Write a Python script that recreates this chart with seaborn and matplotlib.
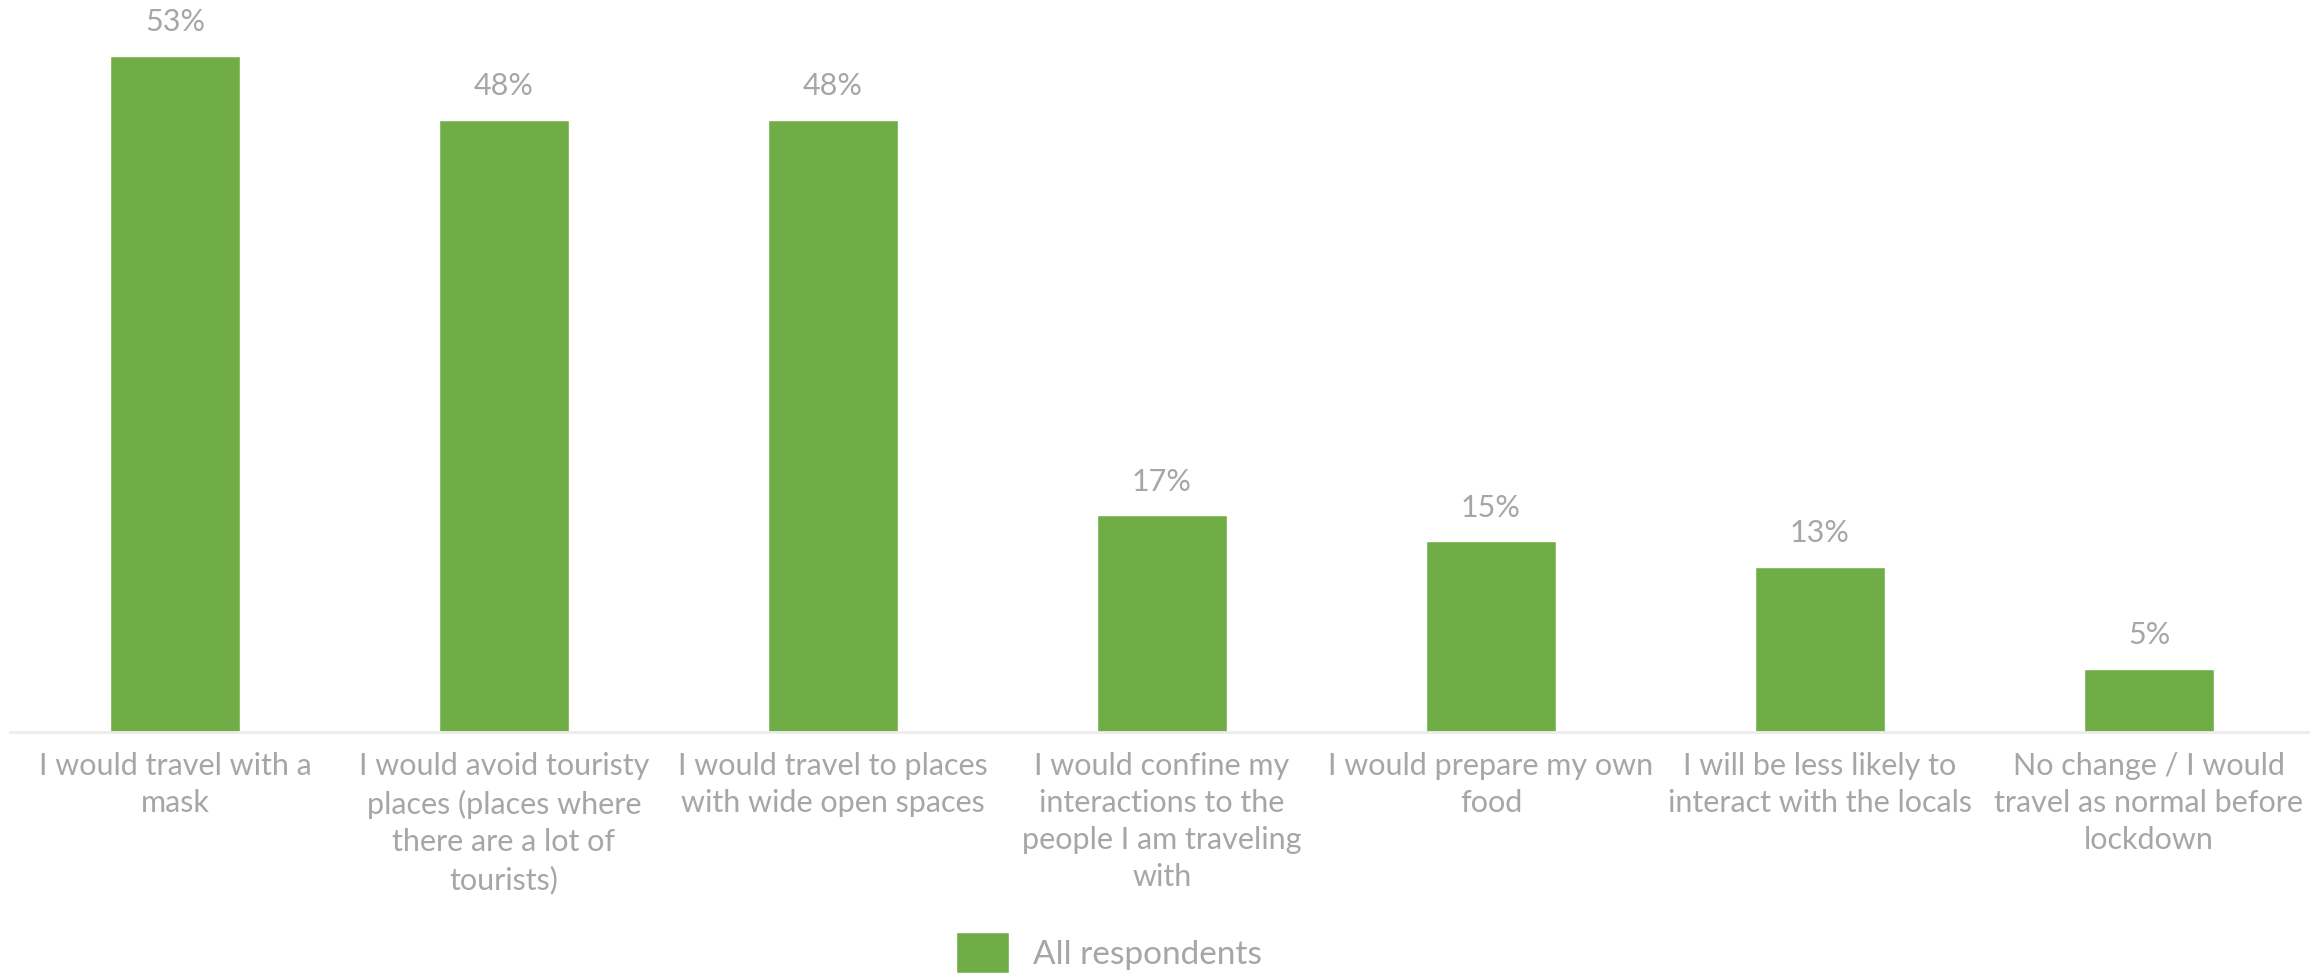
import matplotlib
matplotlib.use("Agg")
import matplotlib.pyplot as plt
import seaborn as sns
import pandas as pd

categories = [
    "I would travel with a\nmask",
    "I would avoid touristy\nplaces (places where\nthere are a lot of\ntourists)",
    "I would travel to places\nwith wide open spaces",
    "I would confine my\ninteractions to the\npeople I am traveling\nwith",
    "I would prepare my own\nfood",
    "I will be less likely to\ninteract with the locals",
    "No change / I would\ntravel as normal before\nlockdown",
]
values = [53, 48, 48, 17, 15, 13, 5]
series_name = "All respondents"

GREEN = "#70AD47"
GRAY = "#A6A6A6"

sns.set_theme(style="white")
plt.rcParams["font.family"] = ["Lato", "DejaVu Sans"]

df = pd.DataFrame({"category": categories, "value": values})

fig = plt.figure(figsize=(23.1, 9.74), dpi=100)
ax = fig.add_axes([0.0045, 0.248, 0.997, 0.747])

sns.barplot(data=df, x="category", y="value", color=GREEN, width=0.395,
            saturation=1, ax=ax, label=series_name)

ax.bar_label(ax.containers[0], fmt="{:.0f}%", padding=14, color=GRAY, fontsize=22)

ax.set_ylim(0, 57)
ax.set_xlim(-0.5, len(categories) - 0.5)
ax.set_xlabel("")
ax.set_ylabel("")
ax.set_yticks([])
for s in ["top", "right", "left"]:
    ax.spines[s].set_visible(False)
ax.spines["bottom"].set_color("#EDEDED")
ax.spines["bottom"].set_linewidth(2)
ax.tick_params(axis="x", length=0, pad=14, labelsize=22, labelcolor=GRAY)
for t in ax.get_xticklabels():
    t.set_linespacing(1.4)

leg = ax.get_legend()
if leg is not None:
    leg.remove()
handles, labels = ax.get_legend_handles_labels()
fig.legend(handles, labels, loc="center", bbox_to_anchor=(0.48, 0.022),
           frameon=False, fontsize=24, labelcolor=GRAY,
           handlelength=1.6, handleheight=1.5, handletextpad=0.7)

fig.savefig("out.png", dpi=100)
